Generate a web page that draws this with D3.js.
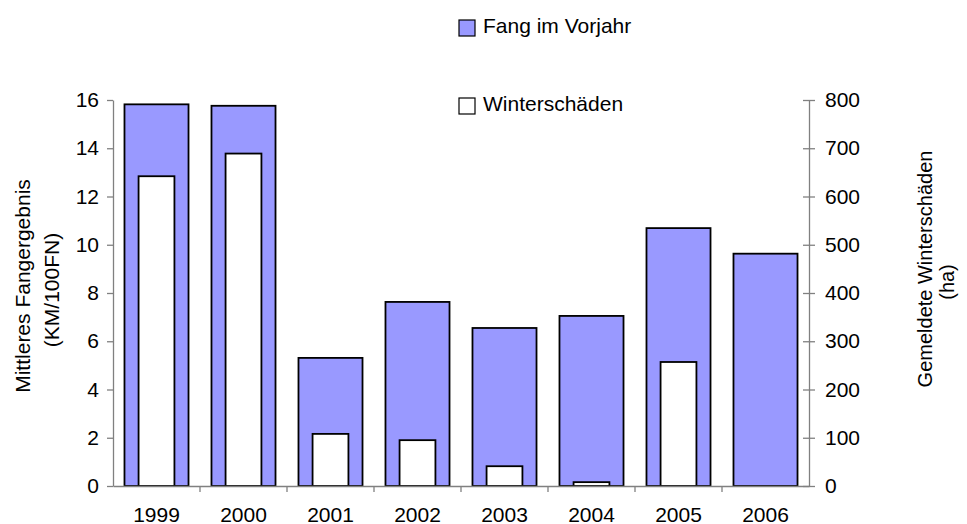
<!DOCTYPE html>
<html>
<head>
<meta charset="utf-8">
<script src="https://cdn.jsdelivr.net/npm/d3@7.9.0/dist/d3.min.js"></script>
<style>
  body { margin: 0; background: #fff; }
  svg text { font-family: Arial, "Liberation Sans", sans-serif; fill: #000; }
</style>
</head>
<body>
<svg id="chart" width="967" height="524"></svg>
<script>
const years = ['1999', '2000', '2001', '2002', '2003', '2004', '2005', '2006'];
const fangVorjahr = [15.82, 15.76, 5.31, 7.63, 6.55, 7.05, 10.69, 9.63];
const winterschaeden = [642, 689, 108, 95, 41, 8, 257, 0];
const leftTicks = [0, 2, 4, 6, 8, 10, 12, 14, 16];
const rightTicks = [0, 100, 200, 300, 400, 500, 600, 700, 800];

const svg = d3.select('#chart');
const plotLeft = 113, plotRight = 809, plotTop = 100, plotBottom = 486;

const x = d3.scaleBand()
  .domain(years)
  .range([plotLeft, plotRight])
  .paddingInner(0.264)
  .paddingOuter(0.132);

const yL = d3.scaleLinear().domain([0, 16]).range([plotBottom, plotTop]);
const yR = d3.scaleLinear().domain([0, 800]).range([plotBottom, plotTop]);

// blue bars (left axis)
svg.append('g')
  .selectAll('rect')
  .data(years)
  .join('rect')
  .attr('x', (d) => x(d))
  .attr('y', (d, i) => yL(fangVorjahr[i]))
  .attr('width', x.bandwidth())
  .attr('height', (d, i) => plotBottom - yL(fangVorjahr[i]))
  .attr('fill', '#9999ff')
  .attr('stroke', '#000')
  .attr('stroke-width', 1.8);

// white bars (right axis)
const innerW = x.bandwidth() * 0.56;
svg.append('g')
  .selectAll('rect')
  .data(years.filter((d, i) => winterschaeden[i] > 0))
  .join('rect')
  .attr('x', (d) => x(d) + (x.bandwidth() - innerW) / 2)
  .attr('y', (d) => yR(winterschaeden[years.indexOf(d)]))
  .attr('width', innerW)
  .attr('height', (d) => plotBottom - yR(winterschaeden[years.indexOf(d)]))
  .attr('fill', '#fff')
  .attr('stroke', '#000')
  .attr('stroke-width', 1.8);

// left axis
const axL = svg.append('g')
  .attr('transform', `translate(${plotLeft},0)`)
  .call(d3.axisLeft(yL).tickValues(leftTicks).tickSize(6).tickPadding(8).tickSizeOuter(0));
axL.selectAll('text').style('font-size', '21px');

// right axis (ticks cross the line)
const axR = svg.append('g')
  .attr('transform', `translate(${plotRight},0)`)
  .call(d3.axisRight(yR).tickValues(rightTicks).tickSize(6).tickPadding(10).tickSizeOuter(0));
axR.selectAll('.tick line').attr('x1', -6).attr('x2', 6);
axR.selectAll('text').style('font-size', '21px');

// x axis
const axX = svg.append('g')
  .attr('transform', `translate(0,${plotBottom})`)
  .call(d3.axisBottom(x).tickSize(0).tickPadding(21).tickSizeOuter(0));
axX.selectAll('text').style('font-size', '21px');
axX.selectAll('.tick line').remove();
axX.selectAll('.boundary')
  .data(years.slice(1))
  .join('line')
  .attr('class', 'boundary')
  .attr('x1', (d) => x(d) - x.step() * x.paddingInner() / 2)
  .attr('x2', (d) => x(d) - x.step() * x.paddingInner() / 2)
  .attr('y1', 0)
  .attr('y2', 6)
  .attr('stroke', '#808080');

svg.selectAll('.domain, .tick line').attr('stroke', '#808080').attr('stroke-width', 1.3);
svg.selectAll('.boundary').attr('stroke-width', 1.3);

// axis titles
const titleL = svg.append('text')
  .attr('transform', 'translate(30,0) rotate(-90)')
  .attr('text-anchor', 'middle')
  .style('font-size', '21px');
titleL.append('tspan').attr('x', -286).attr('dy', 0).text('Mittleres Fangergebnis');
titleL.append('tspan').attr('x', -290).attr('dy', 29).text('(KM/100FN)');

const titleR = svg.append('text')
  .attr('transform', 'translate(932,0) rotate(-90)')
  .attr('text-anchor', 'middle')
  .style('font-size', '20px');
titleR.append('tspan').attr('x', -269).attr('dy', 0).text('Gemeldete Winterschäden');
titleR.append('tspan').attr('x', -282).attr('dy', 22).text('(ha)');

// legend
const legendItems = [
  { label: 'Fang im Vorjahr', fill: '#9999ff', y: 20 },
  { label: 'Winterschäden', fill: '#fff', y: 98 }
];
const lg = svg.append('g')
  .selectAll('g')
  .data(legendItems)
  .join('g')
  .attr('transform', (d) => `translate(459,${d.y})`);
lg.append('rect')
  .attr('width', 16)
  .attr('height', 16)
  .attr('fill', (d) => d.fill)
  .attr('stroke', '#000')
  .attr('stroke-width', 1.2);
lg.append('text')
  .attr('x', 24)
  .attr('y', 13)
  .style('font-size', '21px')
  .text((d) => d.label);
</script>
</body>
</html>
